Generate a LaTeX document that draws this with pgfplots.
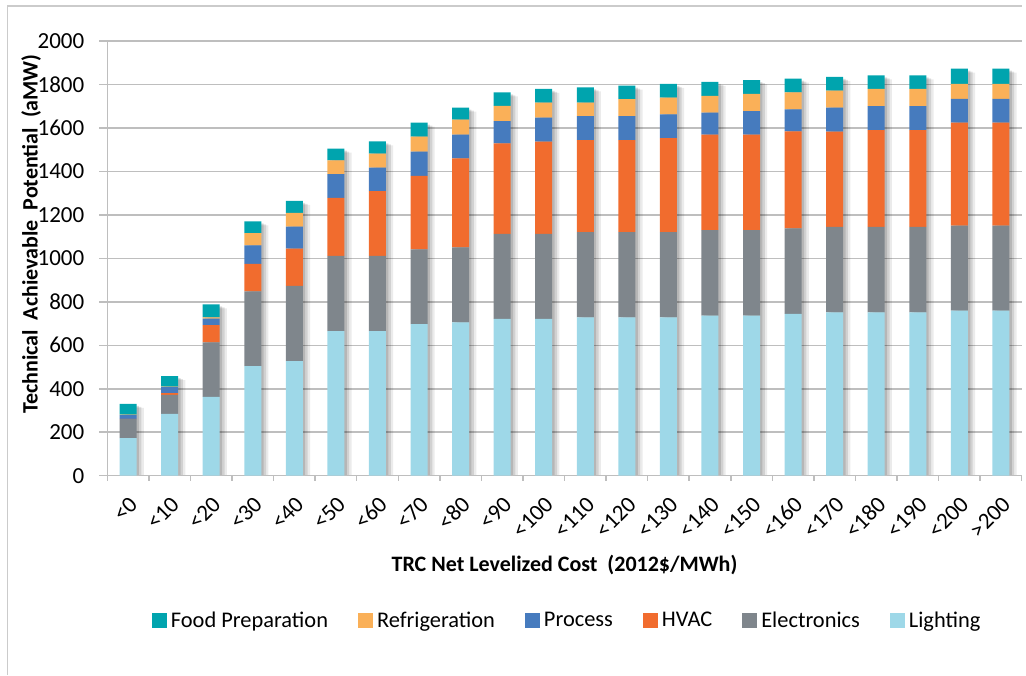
\documentclass[border=0pt]{standalone}
\usepackage{fontspec}
\setmainfont{Carlito}
\usepackage{pgfplots}
\usepackage{pgfplotstable}
\pgfplotsset{compat=1.18}

\definecolor{cfood}{RGB}{0,164,174}
\definecolor{crefr}{RGB}{250,176,88}
\definecolor{cproc}{RGB}{70,123,190}
\definecolor{chvac}{RGB}{241,108,46}
\definecolor{celec}{RGB}{127,134,140}
\definecolor{clight}{RGB}{158,216,232}
\definecolor{cgrid}{RGB}{190,190,190}

\pgfplotstableread{
x L E H P R F T
0 173 87 2 17 2 50 331
1 284 88 8 28 2 48 458
2 363 250 80 30 6 59 788
3 504 344 127 85 56 54 1170
4 527 346 172 101 63 56 1265
5 665 346 267 109 64 54 1505
6 665 346 298 108 65 56 1538
7 697 344 338 112 69 64 1624
8 706 344 410 109 69 56 1694
9 722 391 416 102 71 62 1764
10 722 391 424 110 70 63 1780
11 729 392 423 110 63 70 1787
12 729 392 423 110 78 63 1795
13 729 392 432 109 78 63 1803
14 737 393 439 101 78 64 1812
15 737 393 439 108 80 63 1820
16 745 393 446 101 79 63 1827
17 752 393 438 110 79 63 1835
18 752 393 445 110 80 62 1842
19 752 393 445 110 80 62 1842
20 760 391 473 110 69 70 1873
21 760 391 473 110 69 70 1873
}\datatable

\pgfplotsset{
  base/.style={
    scale only axis,
    width=457.2pt, height=217.35pt,
    at={(53.65pt,99.65pt)}, anchor=south west,
    xmin=-0.5, xmax=21.5, ymin=0, ymax=2000,
    ytick={0,200,...,2000},
    xtick={0,...,21},
    axis x line*=bottom, axis y line*=left,
    axis line style={-},
  },
}

\begin{document}
\begin{tikzpicture}
\useasboundingbox (0,0) rectangle (513pt,337.5pt);
\draw[cgrid!80, line width=0.75pt] (3.75pt,0) -- (3.75pt,334.5pt) -- (511pt,334.5pt);

% grid + shadows
\begin{axis}[base,
  ybar, bar width=8.5pt,
  ymajorgrids, major grid style={cgrid, line width=0.75pt},
  xticklabels={}, yticklabels={},
  tick style={draw=none},
  axis line style={draw=none},
]
\addplot[draw=none, fill=black, fill opacity=0.13, bar shift=1.2pt, yshift=-1pt] table[x=x,y=T]{\datatable};
\addplot[draw=none, fill=black, fill opacity=0.11, bar shift=2.4pt, yshift=-1.5pt] table[x=x,y=T]{\datatable};
\addplot[draw=none, fill=black, fill opacity=0.08, bar shift=3.6pt, yshift=-2pt] table[x=x,y=T]{\datatable};
\end{axis}

% main bars
\begin{axis}[base,
  ybar stacked, bar width=8.5pt,
  axis line style={cgrid, line width=0.75pt},
  xticklabels={{<0},{<10},{<20},{<30},{<40},{<50},{<60},{<70},{<80},{<90},{<100},{<110},{<120},{<130},{<140},{<150},{<160},{<170},{<180},{<190},{<200},{>200}},
  minor xtick={-0.5,0.5,...,21.5},
  tick align=outside,
  major tick length=4pt, minor tick length=2.5pt,
  every major x tick/.style={draw=none},
  every minor x tick/.style={cgrid, line width=0.75pt},
  every major y tick/.style={cgrid, line width=0.75pt},
  /pgf/number format/assume math mode=true,
  /pgf/number format/1000 sep={},
  yticklabel style={font=\fontsize{11.5}{13}\selectfont, xshift=-4pt},
  xticklabel style={font=\fontsize{11.5}{13}\selectfont, rotate=45, anchor=east, inner sep=1pt, xshift=-3pt, yshift=-8pt},
  xlabel={TRC Net Levelized Cost \ (2012\$/MWh)},
  ylabel={Technical \ Achievable \ Potential \ (aMW)},
  xlabel style={font=\bfseries\fontsize{11}{13}\selectfont, at={(axis description cs:0.5,-0.2054)}, anchor=center},
  ylabel style={font=\bfseries\fontsize{11}{13}\selectfont, at={(axis description cs:-0.0834,0.556)}, anchor=center},
  legend columns=6,
  reverse legend,
  legend style={draw=none, fill=none, at={(0.504,-0.334)}, anchor=center,
    font=\fontsize{11.2}{13}\selectfont,
    /tikz/every even column/.append style={column sep=13pt},
    /tikz/every odd column/.append style={column sep=0pt}},
  legend image code/.code={\fill[#1] (0pt,-3.75pt) rectangle (7.5pt,3.75pt);},
]
\addplot[draw=none, fill=clight] table[x=x,y=L]{\datatable};
\addplot[draw=none, fill=celec] table[x=x,y=E]{\datatable};
\addplot[draw=none, fill=chvac] table[x=x,y=H]{\datatable};
\addplot[draw=none, fill=cproc] table[x=x,y=P]{\datatable};
\addplot[draw=none, fill=crefr] table[x=x,y=R]{\datatable};
\addplot[draw=none, fill=cfood] table[x=x,y=F]{\datatable};
\legend{Lighting,Electronics,HVAC,Process,Refrigeration,Food Preparation}
\end{axis}
\end{tikzpicture}
\end{document}
